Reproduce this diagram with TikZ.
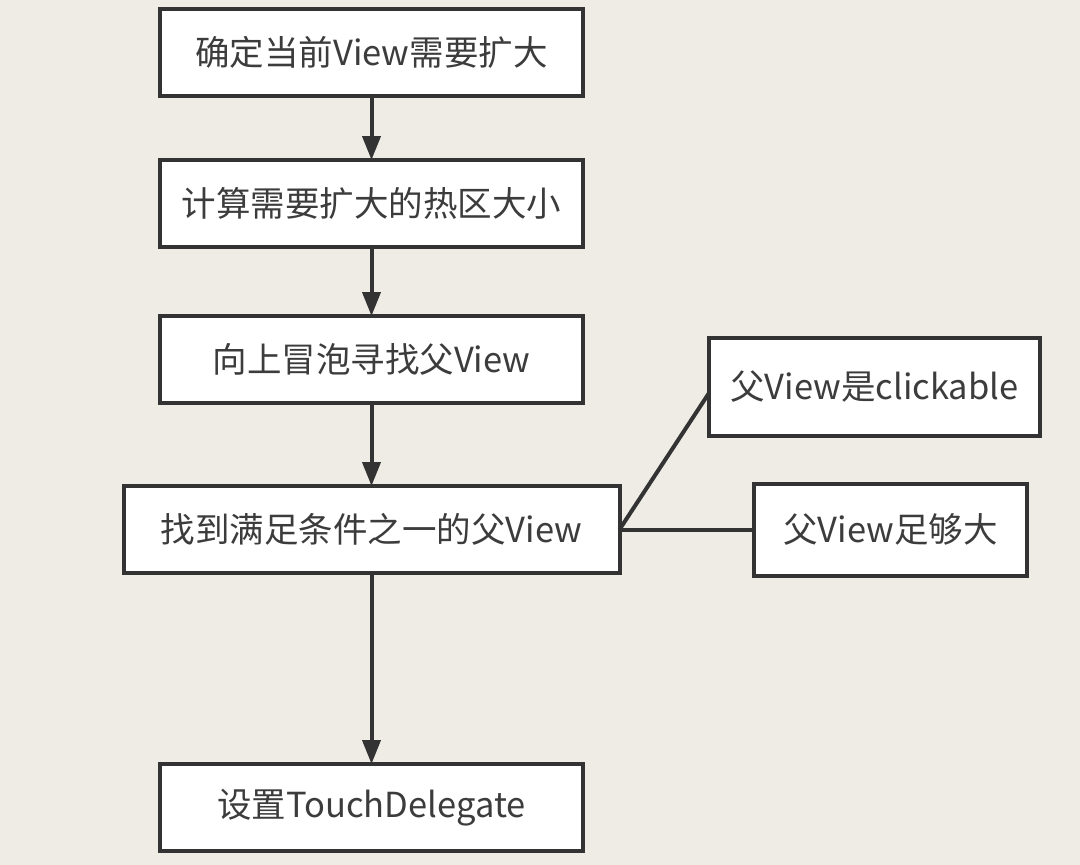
\documentclass[tikz,border=0pt]{standalone}
\usepackage{fontspec}
\setmainfont{Noto Sans CJK SC}
\usetikzlibrary{arrows.meta}
\definecolor{bgpaper}{RGB}{239,236,229}
\definecolor{ink}{RGB}{51,51,51}
\definecolor{inktext}{RGB}{60,60,60}
\begin{document}
\begin{tikzpicture}[x=1pt,y=-1pt,
box/.style={rectangle,draw=ink,fill=white,line width=4pt,text=inktext,
    font=\fontsize{34.5}{38}\selectfont,inner sep=0pt,outer sep=0pt,
    minimum width=423pt,minimum height=87pt},
link/.style={draw=ink,line width=4pt},
flow/.style={link,-{Triangle[length=24pt,width=18pt]}}
]
\fill[bgpaper] (0,0) rectangle (1080,865);
\node[box] (1) at (371.5,52.5) {确定当前View需要扩大};
\node[box] (2) at (371.5,203.5) {计算需要扩大的热区大小};
\node[box] (3) at (371.5,359.5) {向上冒泡寻找父View};
\node[box,minimum width=496pt] (4) at (371.5,529.5) {找到满足条件之一的父View};
\node[box] (5) at (371.5,807.5) {设置TouchDelegate};
\node[box,minimum width=331pt,minimum height=98pt] (6) at (874.5,387) {父View是clickable};
\node[box,minimum width=273pt,minimum height=92pt] (7) at (890.5,529.5) {父View足够大};
\draw[flow] (1) -- (2);
\draw[flow] (2) -- (3);
\draw[flow] (3) -- (4);
\draw[flow] (4) -- (5);
\draw[link] (4.east) -- ([yshift=-6pt]6.west);
\draw[link] (4.east) -- (7.west);
\end{tikzpicture}
\end{document}
